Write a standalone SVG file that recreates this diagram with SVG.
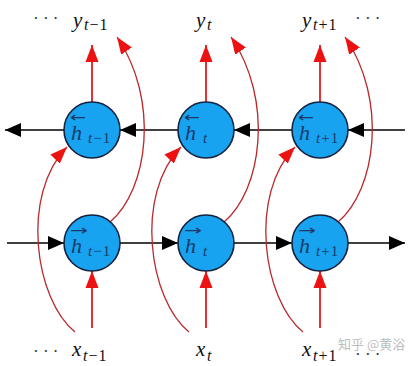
<svg xmlns="http://www.w3.org/2000/svg" width="420" height="366" viewBox="0 0 420 366">
<style>
.node{fill:#17a3f0;stroke:#13233f;stroke-width:1.6}
.blk{stroke:#000;stroke-width:1.6;fill:none}
.red{stroke:#e31b1b;stroke-width:1.8;fill:none}
.curve{stroke:#b8282c;stroke-width:1.3;fill:none}
.m{font-family:"Liberation Serif",serif;font-style:italic;fill:#111;font-size:21px}
.s{font-family:"Liberation Serif",serif;fill:#111;font-size:16px;letter-spacing:1px}
.nl{font-family:"Liberation Serif",serif;fill:#173a6b}
.acc{font-family:"DejaVu Sans",sans-serif;fill:#173a6b;font-size:14px}
.dots{font-family:"Liberation Serif",serif;fill:#333;font-size:17px}
.wm{font-family:"Noto Sans CJK SC","Noto Sans",sans-serif;fill:#bdbdbd;font-size:13px}
</style>
<defs>
<marker id="ab" markerUnits="userSpaceOnUse" markerWidth="18" markerHeight="14" refX="16" refY="7" orient="auto"><path d="M0,0 L16,7 L0,14 Z" fill="#000"/></marker>
<marker id="ar" markerUnits="userSpaceOnUse" markerWidth="18" markerHeight="14" refX="17" refY="7" orient="auto"><path d="M0,0.5 L17,7 L0,13.5 Z" fill="#ec1212"/></marker>
</defs>
<rect width="420" height="366" fill="#fff"/>
<g id="connectors">
<line class="blk" x1="64" y1="130" x2="5" y2="130" marker-end="url(#ab)"/>
<line class="blk" x1="178" y1="130" x2="120" y2="130" marker-end="url(#ab)"/>
<line class="blk" x1="292" y1="130" x2="234" y2="130" marker-end="url(#ab)"/>
<line class="blk" x1="405" y1="130" x2="348" y2="130" marker-end="url(#ab)"/>
<line class="blk" x1="7" y1="243" x2="64" y2="243" marker-end="url(#ab)"/>
<line class="blk" x1="120" y1="243" x2="178" y2="243" marker-end="url(#ab)"/>
<line class="blk" x1="234" y1="243" x2="292" y2="243" marker-end="url(#ab)"/>
<line class="blk" x1="348" y1="243" x2="405" y2="243" marker-end="url(#ab)"/>
<line class="red" x1="92" y1="102" x2="92" y2="45" marker-end="url(#ar)"/>
<line class="red" x1="206" y1="102" x2="206" y2="45" marker-end="url(#ar)"/>
<line class="red" x1="320" y1="102" x2="320" y2="45" marker-end="url(#ar)"/>
<line class="red" x1="92" y1="328" x2="92" y2="271" marker-end="url(#ar)"/>
<line class="red" x1="206" y1="328" x2="206" y2="271" marker-end="url(#ar)"/>
<line class="red" x1="320" y1="328" x2="320" y2="271" marker-end="url(#ar)"/>
<path class="curve" d="M75,332 C35,300 20,195 67,147" marker-end="url(#ar)"/>
<path class="curve" d="M189,332 C149,300 134,195 181,147" marker-end="url(#ar)"/>
<path class="curve" d="M303,332 C263,300 248,195 295,147" marker-end="url(#ar)"/>
<path class="curve" d="M110,222 C148,190 160,100 117,37" marker-end="url(#ar)"/>
<path class="curve" d="M224,222 C262,190 274,100 231,37" marker-end="url(#ar)"/>
<path class="curve" d="M338,222 C376,190 388,100 345,37" marker-end="url(#ar)"/>
</g>
<g id="hb1"><circle class="node" cx="92" cy="130" r="28"/><text class="acc" x="70" y="122" textLength="16" lengthAdjust="spacingAndGlyphs">←</text><text class="nl" x="71" y="140" font-size="22" font-style="italic">h</text><text class="nl" x="88" y="143" font-size="15" letter-spacing="1"><tspan font-style="italic">t</tspan>−1</text></g>
<g id="hb2"><circle class="node" cx="206" cy="130" r="28"/><text class="acc" x="184" y="122" textLength="16" lengthAdjust="spacingAndGlyphs">←</text><text class="nl" x="185" y="140" font-size="22" font-style="italic">h</text><text class="nl" x="203" y="143" font-size="15" font-style="italic">t</text></g>
<g id="hb3"><circle class="node" cx="320" cy="130" r="28"/><text class="acc" x="298" y="122" textLength="16" lengthAdjust="spacingAndGlyphs">←</text><text class="nl" x="299" y="140" font-size="22" font-style="italic">h</text><text class="nl" x="316" y="143" font-size="15" letter-spacing="1"><tspan font-style="italic">t</tspan>+1</text></g>
<g id="hf1"><circle class="node" cx="92" cy="243" r="28"/><text class="acc" x="70" y="235" textLength="18" lengthAdjust="spacingAndGlyphs">→</text><text class="nl" x="71" y="253" font-size="22" font-style="italic">h</text><text class="nl" x="88" y="256" font-size="15" letter-spacing="1"><tspan font-style="italic">t</tspan>−1</text></g>
<g id="hf2"><circle class="node" cx="206" cy="243" r="28"/><text class="acc" x="184" y="235" textLength="18" lengthAdjust="spacingAndGlyphs">→</text><text class="nl" x="185" y="253" font-size="22" font-style="italic">h</text><text class="nl" x="203" y="256" font-size="15" font-style="italic">t</text></g>
<g id="hf3"><circle class="node" cx="320" cy="243" r="28"/><text class="acc" x="298" y="235" textLength="18" lengthAdjust="spacingAndGlyphs">→</text><text class="nl" x="299" y="253" font-size="22" font-style="italic">h</text><text class="nl" x="316" y="256" font-size="15" letter-spacing="1"><tspan font-style="italic">t</tspan>+1</text></g>
<g id="labels">
<text class="dots" x="33" y="24">· · ·</text>
<text class="m" x="73" y="27">y</text><text class="s" x="84" y="30"><tspan font-style="italic">t</tspan>−1</text>
<text class="m" x="196" y="27">y</text><text class="s" x="207" y="30" font-style="italic">t</text>
<text class="m" x="302" y="27">y</text><text class="s" x="313" y="30"><tspan font-style="italic">t</tspan>+1</text>
<text class="dots" x="355" y="24">· · ·</text>
<text class="dots" x="33" y="357">· · ·</text>
<text class="m" x="72" y="356">x</text><text class="s" x="83" y="361"><tspan font-style="italic">t</tspan>−1</text>
<text class="m" x="196" y="356">x</text><text class="s" x="207" y="361" font-style="italic">t</text>
<text class="m" x="302" y="356">x</text><text class="s" x="313" y="361"><tspan font-style="italic">t</tspan>+1</text>
<text class="dots" x="355" y="360">· · ·</text>
<text class="wm" x="338" y="349">知乎 @黄浴</text>
</g>
</svg>
